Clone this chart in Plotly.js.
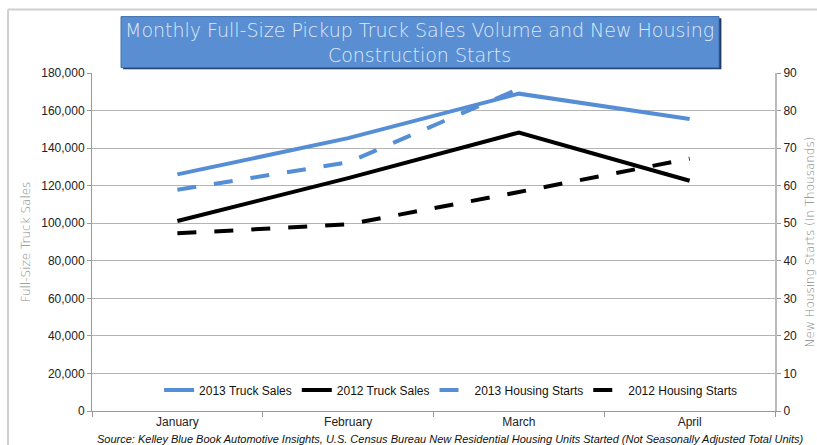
<!DOCTYPE html>
<html>
<head>
<meta charset="utf-8">
<script src="https://cdn.plot.ly/plotly-3.0.1.min.js"></script>
<style>html,body{margin:0;padding:0;background:#fff;}#chart{width:817px;height:445px;}</style>
</head>
<body>
<div id="chart"></div>
<script>
var months = ["January", "February", "March", "April"];
var truck2013 = [126000, 145300, 169000, 155500];
var truck2012 = [101200, 124000, 148300, 122600];
var housing2013 = [58.9, 66.2, 85.8, null];
var housing2012 = [47.3, 49.7, 58.3, 67.2];
var leftTicks = [0, 20000, 40000, 60000, 80000, 100000, 120000, 140000, 160000, 180000];
var rightTicks = [0, 10, 20, 30, 40, 50, 60, 70, 80, 90];

var blue = "#558ed5";
var traces = [
  {x: months, y: truck2013, name: "2013 Truck Sales", type: "scatter", mode: "lines",
   line: {color: blue, width: 4}, yaxis: "y"},
  {x: months, y: truck2012, name: "2012 Truck Sales", type: "scatter", mode: "lines",
   line: {color: "#000", width: 4}, yaxis: "y"},
  {x: months, y: housing2013, name: "2013 Housing Starts", type: "scatter", mode: "lines",
   line: {color: blue, width: 4, dash: "19px,18px"}, yaxis: "y2"},
  {x: months, y: housing2012, name: "2012 Housing Starts", type: "scatter", mode: "lines",
   line: {color: "#000", width: 4, dash: "19px,18px"}, yaxis: "y2"}
];

var tickFont = {family: "Liberation Sans, Arial, sans-serif", size: 12, color: "#222"};
var layout = {
  width: 817, height: 445,
  margin: {l: 92, r: 42, t: 73, b: 34},
  paper_bgcolor: "#fff", plot_bgcolor: "#fff",
  showlegend: true,
  legend: {orientation: "h", x: 0.525, xanchor: "center", y: 0.062, yanchor: "middle",
           font: {family: "Liberation Sans, Arial, sans-serif", size: 12, color: "#111"},
           bgcolor: "rgba(0,0,0,0)", itemwidth: 30, traceorder: "normal"},
  xaxis: {type: "category", range: [-0.5, 3.5], tickson: "boundaries", ticks: "outside",
          ticklen: 5, tickcolor: "#999", showline: true, linecolor: "#999", linewidth: 1,
          showgrid: false, tickfont: tickFont, fixedrange: true},
  yaxis: {range: [0, 180000], tickvals: leftTicks, tickformat: ",d", ticks: "outside",
          ticklen: 4, tickcolor: "#999", showline: true, linecolor: "#999", linewidth: 1,
          gridcolor: "#b4b4b4", gridwidth: 1, zeroline: false, tickfont: tickFont,
          title: {text: "Full-Size Truck Sales", standoff: 8,
                  font: {family: "DejaVu Sans, sans-serif", weight: 200, size: 12, color: "#8a8a8a"}}},
  yaxis2: {range: [0, 90], tickvals: rightTicks, overlaying: "y", side: "right",
           ticks: "outside", ticklen: 4, tickcolor: "#999", showline: true, linecolor: "#bbb",
           linewidth: 2, showgrid: false, zeroline: false, tickfont: tickFont,
           title: {text: "New Housing Starts (In Thousands)", standoff: 10,
                   font: {family: "DejaVu Sans, sans-serif", weight: 200, size: 12, color: "#8a8a8a"}}},
  shapes: [
    {type: "line", xref: "paper", yref: "paper", x0: -0.123, x1: 1.1, y0: 1.1876, y1: 1.1876,
     line: {color: "#d0d0d0", width: 2}},
    {type: "line", xref: "paper", yref: "paper", x0: -0.123, x1: -0.123, y0: -0.12, y1: 1.1876,
     line: {color: "#d0d0d0", width: 2}},
    {type: "rect", xref: "paper", yref: "paper", x0: 0.0455, x1: 0.9215, y0: 1.011, y1: 1.162,
     fillcolor: "#1f3b63", line: {width: 0}},
    {type: "rect", xref: "paper", yref: "paper", x0: 0.0425, x1: 0.918, y0: 1.0157, y1: 1.1668,
     fillcolor: "#5a8ed3", line: {color: "#3f6fae", width: 1}}
  ],
  annotations: [
    {text: "Monthly Full-Size Pickup Truck Sales Volume and New Housing<br>Construction Starts",
     xref: "paper", yref: "paper", x: 0.48, y: 1.0912, xanchor: "center", yanchor: "middle",
     showarrow: false, align: "center",
     font: {family: "DejaVu Sans, sans-serif", weight: 200, size: 19, color: "#dfe9f7"}},
    {text: "<i>Source: Kelley Blue Book Automotive Insights, U.S. Census Bureau New Residential Housing Units Started (Not Seasonally Adjusted Total Units)</i>",
     xref: "paper", yref: "paper", x: 0.525, y: -0.083, xanchor: "center", yanchor: "middle",
     showarrow: false, font: {family: "Liberation Sans, Arial, sans-serif", size: 11, color: "#111"}}
  ]
};

Plotly.newPlot("chart", traces, layout, {displayModeBar: false, staticPlot: true});
</script>
</body>
</html>
